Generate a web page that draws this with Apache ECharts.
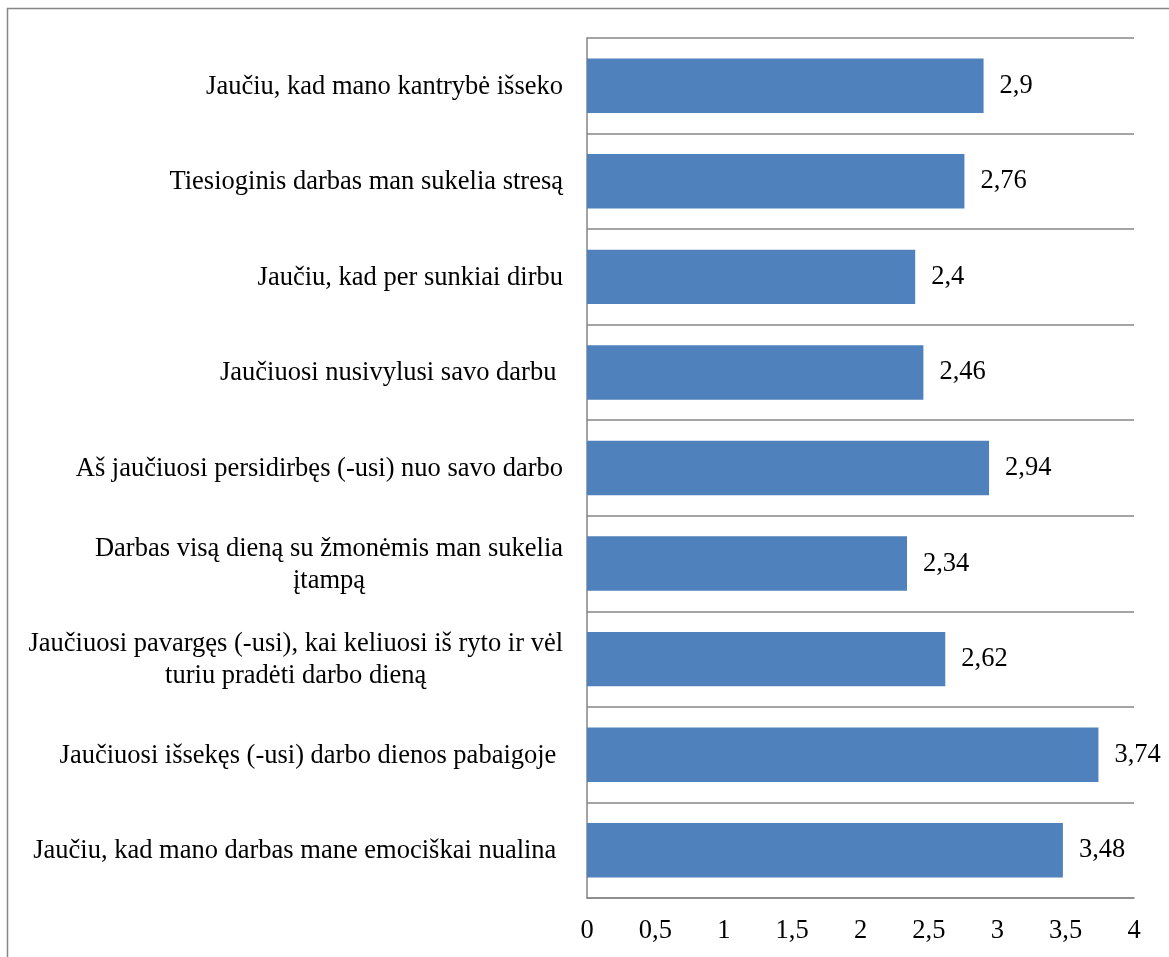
<!DOCTYPE html>
<html>
<head>
<meta charset="utf-8">
<script src="https://cdn.jsdelivr.net/npm/echarts@6/dist/echarts.min.js"></script>
<style>
html,body{margin:0;padding:0;background:#fff;}
#c{width:1169px;height:957px;}
</style>
</head>
<body>
<div id="c"></div>
<script>
const categories = [
  "Jaučiu, kad mano kantrybė išseko",
  "Tiesioginis darbas man sukelia stresą",
  "Jaučiu, kad per sunkiai dirbu",
  "Jaučiuosi nusivylusi savo darbu ",
  "Aš jaučiuosi persidirbęs (-usi) nuo savo darbo",
  "Darbas visą dieną su žmonėmis man sukelia\nįtampą",
  "Jaučiuosi pavargęs (-usi), kai keliuosi iš ryto ir vėl\nturiu pradėti darbo dieną",
  "Jaučiuosi išsekęs (-usi) darbo dienos pabaigoje ",
  "Jaučiu, kad mano darbas mane emociškai nualina "
];
const values = [2.9, 2.76, 2.4, 2.46, 2.94, 2.34, 2.62, 3.74, 3.48];
const xTicks = { min: 0, max: 4, interval: 0.5 };

const FONT = '"Liberation Serif", "Times New Roman", serif';
const FS = 26.5;
const fmt = v => String(v).replace('.', ',');

const chart = echarts.init(document.getElementById('c'), null, { renderer: 'canvas' });
chart.setOption({
  animation: false,
  backgroundColor: '#fff',
  graphic: [{
    type: 'rect',
    shape: { x: 7.5, y: 8.5, width: 1300, height: 1100 },
    style: { fill: 'none', stroke: '#868686', lineWidth: 1.5 },
    silent: true
  }],
  grid: { left: 587, right: 35, top: 38, bottom: 59, containLabel: false },
  xAxis: {
    type: 'value',
    min: xTicks.min, max: xTicks.max, interval: xTicks.interval,
    axisLine: { show: true, lineStyle: { color: '#868686', width: 1.5 } },
    axisTick: { show: false },
    splitLine: { show: false },
    axisLabel: {
      formatter: fmt,
      color: '#000', fontFamily: FONT, fontSize: FS, margin: 20
    }
  },
  yAxis: {
    type: 'category',
    inverse: true,
    data: categories,
    axisLine: { show: true, lineStyle: { color: '#868686', width: 1.5 } },
    axisTick: { show: false },
    splitLine: { show: true, lineStyle: { color: '#868686', width: 1.5 } },
    axisLabel: {
      margin: 24,
      formatter: v => v.split('\n').map(l => '{c|' + l + '}').join('\n'),
      rich: { c: { align: 'center', color: '#000', fontFamily: FONT, fontSize: FS, lineHeight: 32, padding: [2, 0, 0, 0] } },
      color: '#000', fontFamily: FONT, fontSize: FS
    }
  },
  series: [{
    type: 'bar',
    data: values,
    barCategoryGap: '43%',
    itemStyle: { color: '#4F81BD' },
    label: {
      show: true, position: 'right', distance: 16,
      padding: [3, 0, 0, 0],
      formatter: p => fmt(p.value),
      color: '#000', fontFamily: FONT, fontSize: FS
    }
  }]
});
</script>
</body>
</html>
